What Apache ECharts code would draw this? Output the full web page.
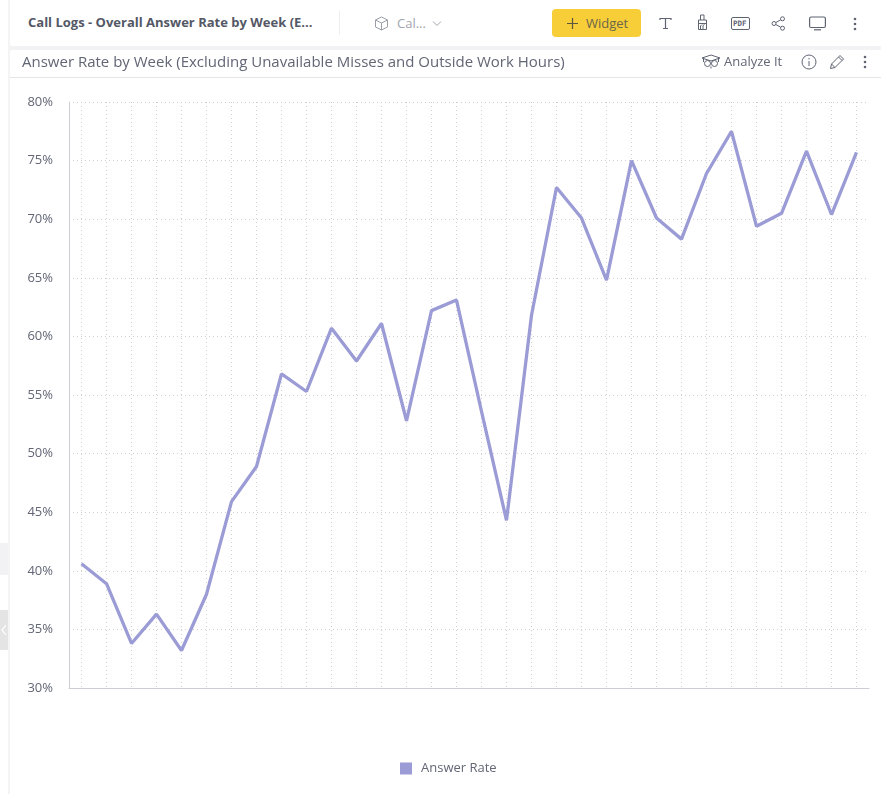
<!DOCTYPE html>
<html>
<head>
<meta charset="utf-8">
<title>Answer Rate by Week</title>
<script src="https://cdn.jsdelivr.net/npm/echarts@6/dist/echarts.min.js"></script>
<style>
  html, body { margin: 0; padding: 0; background: #fff; width: 881px; height: 794px; overflow: hidden; font-family: "Open Sans", sans-serif; color: #5b6170; }
  #chart { position: absolute; left: 0; top: 0; width: 881px; height: 794px; }
  .abs { position: absolute; white-space: nowrap; }
  svg.abs { fill: none; stroke: #5f6472; stroke-width: 1.2; }
</style>
</head>
<body>
<div id="chart"></div>

<!-- Dashboard toolbar -->
<div class="abs" style="left:8px;top:0;width:873px;height:46px;background:#fff;"></div>
<div class="abs" style="left:8px;top:46px;width:873px;height:4px;background:#f3f3f5;"></div>
<div class="abs" style="left:8px;top:77px;width:873px;height:1px;background:#e4e4e8;"></div>
<div class="abs" style="left:0;top:45px;width:8px;height:1px;background:#e8e8ea;"></div>
<div class="abs" style="left:0;top:0;width:8px;height:794px;background:#fff;"></div>
<div class="abs" style="left:8px;top:0;width:2px;height:794px;background:#f4f4f5;"></div>
<div class="abs" style="left:0;top:543px;width:8px;height:32px;background:#f2f2f4;"></div>
<div class="abs" style="left:0;top:610px;width:8px;height:40px;background:#e4e4e4;"></div>
<svg class="abs" style="left:0;top:622px;stroke:#fff;" width="8" height="16"><path d="M6 3 L2 8 L6 13"/></svg>

<div class="abs" style="left:28px;top:13px;font-size:13px;font-weight:700;line-height:18px;color:#545866;">Call Logs - Overall Answer Rate by Week (E...</div>
<div class="abs" style="left:339px;top:11px;width:1px;height:24px;background:#eeeef0;"></div>
<svg class="abs" style="left:374px;top:16px;stroke:#9a9ea6;stroke-width:1;" width="15" height="15"><path d="M7.5 1 L13.5 4 V11 L7.5 14 L1.5 11 V4 Z M1.5 4 L7.5 7 L13.5 4 M7.5 7 V14"/></svg>
<div class="abs" style="left:397px;top:14px;font-size:13px;line-height:18px;color:#a2a5ad;">Cal...</div>
<svg class="abs" style="left:432px;top:20px;stroke:#a2a5ad;stroke-width:1;" width="10" height="8"><path d="M1 1.5 L5 5.5 L9 1.5"/></svg>

<div class="abs" style="left:552px;top:9px;width:89px;height:28px;background:#f7cd38;border-radius:4px;"></div>
<svg class="abs" style="left:566px;top:17px;stroke:#5a5640;" width="13" height="13"><path d="M6.5 1 V12 M1 6.5 H12"/></svg>
<div class="abs" style="left:586px;top:14px;font-size:13px;line-height:18px;color:#6a6648;">Widget</div>

<svg class="abs" style="left:659px;top:17px;" width="13" height="13"><path d="M1 3 V1.5 H12 V3 M6.5 1.5 V11.5 M4 11.5 H9"/></svg>
<svg class="abs" style="left:697px;top:14px;stroke-width:1;" width="11" height="17"><path d="M3.5 6 V1 H7 V6 M1.5 6 H9.5 V15.5 H1.5 Z M1.5 9.5 H9.5 M3.5 15.5 V12 L5 10.5 M6 15.5 V11.5 L7.5 10.5"/></svg>
<svg class="abs" style="left:731px;top:17px;stroke-width:1;" width="19" height="13"><rect x="0.5" y="0.5" width="18" height="12" rx="1.5"/></svg>
<div class="abs" style="left:733px;top:19px;font-size:7.5px;line-height:9px;font-weight:700;font-family:'DejaVu Sans Mono',monospace;color:#5f6472;">PDF</div>
<svg class="abs" style="left:771px;top:16px;stroke-width:1;" width="15" height="15"><circle cx="3" cy="7.5" r="2"/><circle cx="11.5" cy="2.8" r="2"/><circle cx="11.5" cy="12.2" r="2"/><path d="M4.8 6.5 L9.7 3.8 M4.8 8.5 L9.7 11.2"/></svg>
<svg class="abs" style="left:809px;top:16px;" width="17" height="15"><rect x="0.6" y="1" width="15.8" height="10.5" rx="1.5"/><path d="M5 13.8 H12"/></svg>
<svg class="abs" style="left:853px;top:17px;stroke:none;fill:#5f6472;" width="4" height="14"><circle cx="2" cy="2" r="1.3"/><circle cx="2" cy="7" r="1.3"/><circle cx="2" cy="12" r="1.3"/></svg>

<!-- Widget header -->
<div class="abs" style="left:22px;top:50px;font-size:15px;line-height:22px;color:#626675;">Answer Rate by Week (Excluding Unavailable Misses and Outside Work Hours)</div>
<svg class="abs" style="left:701px;top:54px;stroke-width:1;" width="20" height="16"><path d="M1 4 L10 1 L19 4 L10 7 Z"/><circle cx="6.5" cy="9.5" r="3"/><circle cx="13.5" cy="9.5" r="3"/><path d="M9.5 9.5 H10.5 M10 12.5 L10 14.5 M2.5 5 V8 M17.5 5 V8"/></svg>
<div class="abs" style="left:724px;top:52px;font-size:13px;line-height:19px;color:#626675;">Analyze It</div>
<svg class="abs" style="left:801px;top:54px;stroke-width:1;" width="16" height="16"><circle cx="8" cy="8" r="7"/><path d="M8 7 V12 M8 4 V5.4"/></svg>
<svg class="abs" style="left:829px;top:54px;stroke-width:1;" width="16" height="16"><path d="M1.5 14.5 L2.5 10 L11 1.5 L14.5 5 L6 13.5 Z M9.5 3 L13 6.5 M2.5 10 L6 13.5"/></svg>
<svg class="abs" style="left:863px;top:55px;stroke:none;fill:#5f6472;" width="4" height="14"><circle cx="2" cy="2" r="1.3"/><circle cx="2" cy="7" r="1.3"/><circle cx="2" cy="12" r="1.3"/></svg>

<script>
// Weekly answer rate, in percent
const weeks = ['W1','W2','W3','W4','W5','W6','W7','W8','W9','W10','W11','W12','W13','W14','W15','W16',
               'W17','W18','W19','W20','W21','W22','W23','W24','W25','W26','W27','W28','W29','W30','W31','W32'];
const answerRate = [40.6,38.9,33.8,36.3,33.2,38.0,45.9,48.9,56.8,55.3,60.7,57.9,61.1,52.8,62.2,63.1,
                    53.6,44.3,61.8,72.7,70.1,64.8,75.0,70.1,68.3,73.9,77.5,69.4,70.5,75.8,70.4,75.7];
const seriesName = 'Answer Rate';
const yMin = 30, yMax = 80, yStep = 5;

const gridLine = { show: true, lineStyle: { color: '#d0d0d0', type: [1, 3], width: 1 } };
const axisLine = { show: true, lineStyle: { color: '#cdcdd6', width: 1 } };

const chart = echarts.init(document.getElementById('chart'), null, { renderer: 'canvas' });
chart.setOption({
  animation: false,
  textStyle: { fontFamily: '"Open Sans", sans-serif' },
  grid: { left: 69, right: 12, top: 102, bottom: 106 },
  legend: {
    show: true, top: 757, left: 395,
    itemWidth: 12, itemHeight: 12,
    icon: 'rect',
    textStyle: { color: '#626675', fontSize: 13, padding: [0, 0, 0, 4] },
    data: [seriesName]
  },
  xAxis: {
    type: 'category',
    data: weeks,
    boundaryGap: true,
    axisLine: axisLine,
    axisTick: { show: false, alignWithLabel: true },
    axisLabel: { show: false },
    splitLine: Object.assign({ alignWithLabel: true, interval: 0 }, gridLine)
  },
  yAxis: {
    type: 'value',
    min: yMin, max: yMax, interval: yStep,
    axisLine: axisLine,
    axisTick: { show: false },
    axisLabel: { color: '#626675', fontSize: 13, margin: 16, padding: [2, 0, 0, 0], formatter: '{value}%' },
    splitLine: gridLine
  },
  series: [{
    name: seriesName,
    type: 'line',
    data: answerRate,
    symbol: 'none',
    smooth: false,
    lineStyle: { color: '#9b9bd6', width: 3.3 },
    itemStyle: { color: '#9b9bd6' }
  }]
});
</script>
</body>
</html>
